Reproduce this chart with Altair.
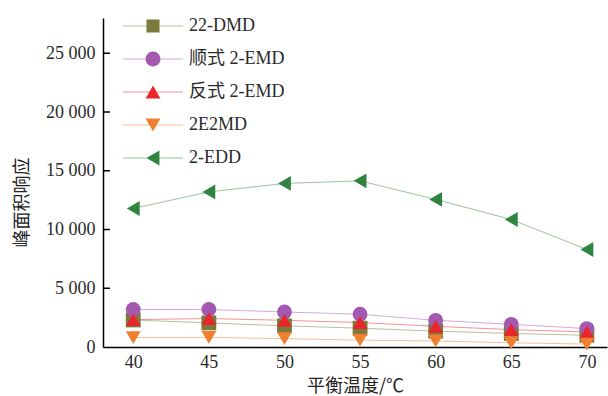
import altair as alt
import pandas as pd

# Equilibrium temperature (°C)
temps = [40, 45, 50, 55, 60, 65, 70]

# Peak-area response of each compound
series_names = ["22-DMD", "顺式 2-EMD", "反式 2-EMD", "2E2MD", "2-EDD"]
dmd22 = [2300, 2050, 1800, 1600, 1350, 1150, 1000]
cis_emd = [3190, 3190, 2980, 2790, 2270, 1930, 1570]
trans_emd = [2330, 2420, 2270, 2080, 1760, 1480, 1280]
e2md = [800, 820, 710, 580, 510, 360, 250]
edd = [11790, 13200, 13920, 14140, 12560, 10850, 8300]

colors = ["#7b7a3c", "#a459b0", "#e8262b", "#f08030", "#2f8540"]
shapes = ["square", "circle", "triangle-up", "triangle-down", "triangle-left"]

y_ticks = [0, 5000, 10000, 15000, 20000, 25000]

rows = []
for name, vals in zip(series_names, [dmd22, cis_emd, trans_emd, e2md, edd]):
    for t, v in zip(temps, vals):
        rows.append({"temp": t, "area": v, "series": name})
df = pd.DataFrame(rows)

SERIF = "'Liberation Serif', 'Noto Sans CJK SC', serif"
CJK = "'Noto Sans CJK SC', sans-serif"

# legend glyphs: a hairline through the marker (unit-box path coordinates)
LINE = "M-4.05,-0.04H4.05V0.04H-4.05Z"
legend_glyphs = [
    LINE + "M-0.88,-0.88H0.88V0.88H-0.88Z",
    LINE + "M1,0A1,1,0,1,1,-1,0A1,1,0,1,1,1,0Z",
    LINE + "M0,-0.87L1,0.87L-1,0.87Z",
    LINE + "M0,0.87L-1,-0.87L1,-0.87Z",
    LINE + "M-0.87,0L0.87,-1L0.87,1Z",
]

x_scale = alt.Scale(domain=[38, 71.33], nice=False, zero=False)
y_scale = alt.Scale(domain=[0, 28000], nice=False)

axis_style = dict(
    grid=False,
    ticks=False,
    domainColor="black",
    domainWidth=1.5,
    labelFont=SERIF,
    labelFontSize=18,
    labelColor="#2a2a2a",
    titleFont=CJK,
    titleFontSize=18,
    titleFontWeight="normal",
    titleColor="#222222",
)

x_enc = alt.X(
    "temp:Q",
    scale=x_scale,
    axis=alt.Axis(values=temps, title="平衡温度/℃", labelPadding=6, titlePadding=6, **axis_style),
)
y_enc = alt.Y(
    "area:Q",
    scale=y_scale,
    axis=alt.Axis(
        values=y_ticks,
        title="峰面积响应",
        labelPadding=8,
        titlePadding=14,
        titleY=184,
        labelExpr="replace(format(datum.value, ','), ',', ' ')",
        **axis_style,
    ),
)

color_scale = alt.Scale(domain=series_names, range=colors)

lines = alt.Chart(df).mark_line(strokeWidth=1, opacity=0.5).encode(
    x=x_enc,
    y=y_enc,
    stroke=alt.Stroke("series:N", scale=color_scale, legend=None),
    detail="series:N",
)

points = alt.Chart(df).mark_point(filled=True, size=220, opacity=1).encode(
    x=x_enc,
    y=y_enc,
    color=alt.Color("series:N", scale=color_scale, legend=None),
    shape=alt.Shape(
        "series:N",
        scale=alt.Scale(domain=series_names, range=shapes),
        legend=None,
    ),
)

legend = alt.Legend(
    title=None,
    orient="none",
    legendX=41,
    legendY=-1,
    direction="vertical",
    symbolSize=220,
    symbolStrokeWidth=0,
    symbolOpacity=1,
    labelOffset=27,
    rowPadding=15,
    labelFont=SERIF,
    labelFontSize=18,
    labelColor="#2a2a2a",
    labelLimit=300,
)

# key layer: carries the legend only (no rows pass the filter)
key = (
    alt.Chart(df)
    .transform_filter("datum.temp < 0")
    .mark_point(filled=True, size=220)
    .encode(
        x=alt.X("temp:Q", scale=x_scale),
        y=alt.Y("area:Q", scale=y_scale),
        fill=alt.Fill("series:N", scale=color_scale, legend=legend),
        shape=alt.Shape(
            "series:N",
            scale=alt.Scale(domain=series_names, range=legend_glyphs),
            legend=legend,
        ),
    )
)

# inward tick marks on the value axis
tick_df = pd.DataFrame({"v": y_ticks[1:]})
ticks = alt.Chart(tick_df).mark_rule(color="black", strokeWidth=1.5).encode(
    y=alt.Y("v:Q", scale=y_scale),
    x=alt.value(0),
    x2=alt.value(7),
)

chart = (
    alt.layer(lines, points, key, ticks)
    .resolve_scale(shape="independent", fill="independent")
    .properties(
        width=504,
        height=329,
        autosize=alt.AutoSizeParams(type="none"),
        padding={"left": 103, "top": 18, "right": 1, "bottom": 49},
        background="white",
    )
    .configure_view(stroke=None)
)

chart.save("out.html", embed_options={"renderer": "svg", "actions": False})
